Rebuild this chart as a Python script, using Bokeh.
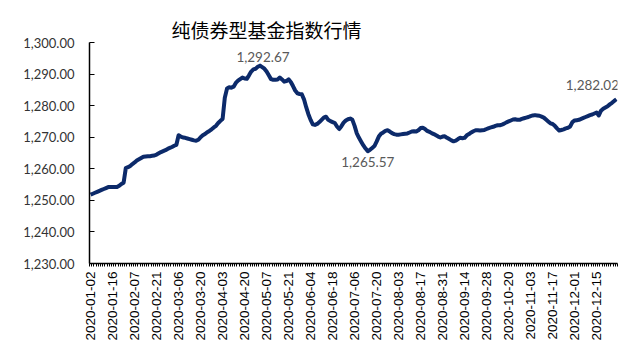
import pandas as pd
from bokeh.plotting import figure
from bokeh.models import (Range1d, FixedTicker, NumeralTickFormatter, ColumnDataSource)
from bokeh.core.properties import value
from bokeh.embed import file_html
from bokeh.resources import INLINE

title_text = "纯债券型基金指数行情"

# 2020 China A-share market holidays (weekdays closed)
holidays = ["2020-01-01", "2020-01-24", "2020-01-27", "2020-01-28", "2020-01-29",
            "2020-01-30", "2020-01-31", "2020-04-06", "2020-05-01", "2020-05-04",
            "2020-05-05", "2020-06-25", "2020-06-26", "2020-10-01", "2020-10-02",
            "2020-10-05", "2020-10-06", "2020-10-07", "2020-10-08"]
first_day = "2020-01-02"
last_day = "2020-12-28"

index_values = [
    1251.80, 1252.10, 1252.40, 1252.70, 1253.00, 1253.30, 1253.60, 1253.90, 1254.20, 1254.20,
    1254.20, 1254.20, 1254.20, 1254.60, 1255.20, 1255.60, 1260.20, 1260.50, 1260.90, 1261.50,
    1262.00, 1262.60, 1263.00, 1263.40, 1263.80, 1263.90, 1264.00, 1264.00, 1264.10, 1264.20,
    1264.50, 1264.90, 1265.30, 1265.60, 1265.90, 1266.30, 1266.60, 1266.90, 1267.30, 1267.60,
    1270.60, 1270.20, 1269.90, 1269.80, 1269.60, 1269.40, 1269.20, 1269.00, 1268.90, 1269.20,
    1270.00, 1270.60, 1271.00, 1271.60, 1272.00, 1272.50, 1273.10, 1273.60, 1274.50, 1275.20,
    1275.80, 1282.50, 1285.40, 1285.80, 1285.70, 1286.00, 1287.20, 1287.90, 1288.40, 1288.90,
    1288.60, 1288.50, 1289.60, 1290.80, 1291.50, 1291.70, 1292.30, 1292.67, 1292.20, 1291.70,
    1290.80, 1289.60, 1288.40, 1288.20, 1288.20, 1288.30, 1288.90, 1288.30, 1287.60, 1287.80,
    1288.30, 1287.50, 1286.20, 1284.80, 1283.90, 1283.70, 1283.60, 1282.00, 1279.50, 1277.30,
    1275.50, 1274.10, 1273.90, 1274.20, 1274.80, 1275.50, 1276.20, 1276.50, 1275.50, 1275.10,
    1274.80, 1274.50, 1273.40, 1272.60, 1273.50, 1274.60, 1275.30, 1275.70, 1275.90, 1275.50,
    1273.60, 1271.20, 1269.80, 1268.60, 1267.40, 1266.40, 1265.57, 1266.00, 1266.60, 1267.20,
    1268.60, 1270.20, 1271.10, 1271.50, 1272.00, 1272.20, 1271.80, 1271.30, 1271.00, 1270.80,
    1270.80, 1270.90, 1271.00, 1271.10, 1271.20, 1271.50, 1271.80, 1271.90, 1271.80, 1272.20,
    1272.90, 1273.00, 1272.60, 1272.00, 1271.70, 1271.30, 1271.00, 1270.60, 1270.20, 1269.90,
    1270.20, 1270.30, 1269.80, 1269.40, 1269.00, 1268.70, 1268.90, 1269.40, 1269.80, 1269.70,
    1269.80, 1270.60, 1271.00, 1271.50, 1271.90, 1272.20, 1272.20, 1272.10, 1272.20, 1272.30,
    1272.60, 1272.90, 1273.10, 1273.30, 1273.60, 1273.80, 1273.80, 1274.00, 1274.30, 1274.70,
    1275.00, 1275.30, 1275.60, 1275.70, 1275.50, 1275.50, 1275.80, 1276.00, 1276.20, 1276.40,
    1276.70, 1276.90, 1277.00, 1276.90, 1276.80, 1276.50, 1276.20, 1275.60, 1275.00, 1274.40,
    1274.20, 1273.60, 1272.80, 1272.10, 1272.30, 1272.50, 1272.80, 1273.00, 1273.40, 1274.80,
    1275.30, 1275.40, 1275.50, 1275.80, 1276.10, 1276.40, 1276.70, 1277.00, 1277.20, 1277.50,
    1277.80, 1276.90, 1278.40, 1279.00, 1279.40, 1279.80, 1280.40, 1280.90, 1281.50, 1282.02,
]

y_ticks = [1230, 1240, 1250, 1260, 1270, 1280, 1290, 1300]
label_every = 10

# trading-day categories
dates = [d.strftime("%Y-%m-%d") for d in pd.bdate_range(first_day, last_day)
         if d.strftime("%Y-%m-%d") not in holidays]
n = len(index_values)
dates = dates[:n]
xs = list(range(n))

W, H = 625, 348
p = figure(width=W, height=H, output_backend="svg", toolbar_location=None,
           x_range=Range1d(-0.5, n - 0.5), y_range=Range1d(y_ticks[0], y_ticks[-1]),
           min_border_left=89, min_border_right=8, min_border_top=42, min_border_bottom=85,
           title=title_text)
p.outline_line_color = None
p.background_fill_color = "white"
p.border_fill_color = "white"
p.grid.grid_line_color = None

p.title.align = "left"
p.title.offset = 82
p.title.text_font = "Noto Sans CJK SC"
p.title.text_font_size = "19px"
p.title.text_font_style = "normal"
p.title.text_color = "#000000"
p.title.standoff = 0

p.line(xs, index_values, line_color="#0c2a6a", line_width=4, line_join="round")

# axes
major = list(range(0, n, label_every))
xa = p.xaxis[0]
xa.ticker = FixedTicker(ticks=major, minor_ticks=[i - 0.5 for i in range(n + 1)])
xa.major_label_overrides = {i: dates[i] for i in major}
xa.major_label_orientation = 3.14159265 / 2
xa.major_label_text_font = "Liberation Sans"
xa.major_label_text_font_size = "13.5px"
xa.major_label_text_color = "#000000"
xa.major_label_standoff = 5
xa.major_tick_line_color = None
xa.major_tick_out = 3
xa.major_tick_in = 0
xa.minor_tick_out = 3
xa.minor_tick_in = 0
xa.minor_tick_line_color = "#000000"
xa.axis_line_color = "#000000"
xa.axis_line_width = 1.5

ya = p.yaxis[0]
ya.ticker = FixedTicker(ticks=y_ticks, minor_ticks=[])
ya.formatter = NumeralTickFormatter(format="0,0.00")
ya.major_tick_in = 5
ya.major_tick_out = 0
ya.major_tick_line_color = "#000000"
ya.axis_line_color = "#000000"
ya.axis_line_width = 1.5
ya.major_label_text_font = "Lato"
ya.major_label_text_font_size = "13px"
ya.major_label_text_color = "#333333"
ya.major_label_standoff = 15

# data labels: overall peak, the low after the peak, and the last point
i_max = max(range(n), key=lambda i: index_values[i])
i_min = min(range(i_max, n), key=lambda i: index_values[i])
i_last = n - 1
lab = ColumnDataSource(dict(
    x=[i_max, i_min, i_last],
    y=[index_values[i_max], index_values[i_min], index_values[i_last]],
    t=[f"{index_values[i]:,.2f}" for i in (i_max, i_min, i_last)],
    xo=[3, 0, -24],
    yo=[-4, 6, -9],
    bl=["bottom", "top", "bottom"],
))
p.text(x="x", y="y", text="t", source=lab, x_offset="xo", y_offset="yo",
       text_baseline="bl", text_align="center", text_font=value("Lato"),
       text_font_size="13.5px", text_color="#595959")

open("out.html", "w").write(file_html(p, INLINE))
